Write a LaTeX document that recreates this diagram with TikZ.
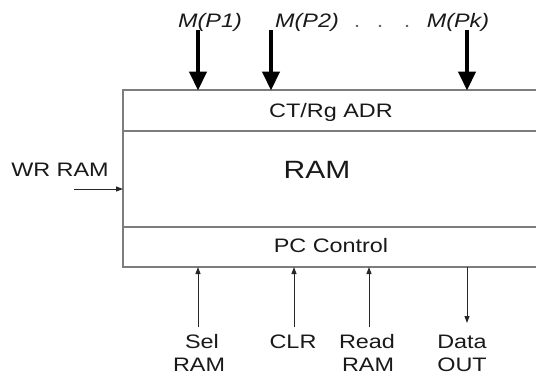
\documentclass[tikz,border=0pt]{standalone}
\usepackage{fontspec}
\newfontfamily\labfont[FakeStretch=1.2]{Liberation Sans}
\usetikzlibrary{arrows.meta}
\definecolor{boxgray}{RGB}{125,125,125}
\tikzset{
  lab/.style={font=\labfont\fontsize{19.5}{24}\selectfont, inner sep=0pt, anchor=base, text=black!90},
  toplab/.style={lab, font=\labfont\itshape\fontsize{19.5}{24}\selectfont},
  boxline/.style={draw=boxgray, line width=1.4pt},
  bigarrow/.style={line width=4.5pt, -{Triangle[length=19pt,width=17pt]}, shorten >=-0.5pt},
  smallarrow/.style={line width=1pt, draw=black!85, -{Triangle[length=7pt,width=5pt]}},
}
\begin{document}
\begin{tikzpicture}[x=1pt,y=-1pt]
\useasboundingbox (0,0) rectangle (536,376);
% box (open on the right)
\coordinate (tl) at (123,90);
\coordinate (tr) at (536,90);
\coordinate (bl) at (123,267);
\coordinate (br) at (536,267);
\coordinate (l1) at (123,131);
\coordinate (r1) at (536,131);
\coordinate (l2) at (123,227);
\coordinate (r2) at (536,227);
\draw[boxline] (tr) -- (tl) -- (bl) -- (br);
\draw[boxline] (l1) -- (r1);
\draw[boxline] (l2) -- (r2);
% texts inside
\node[lab] (ct) at (331,117) {CT/Rg ADR};
\node[lab, font=\labfont\fontsize{25}{30}\selectfont] (ram) at (317,178) {RAM};
\node[lab] (pc) at (331,252) {PC Control};
% top labels
\node[toplab] (p1) at (210,27) {M(P1)};
\node[toplab] (p2) at (307,27) {M(P2)};
\node[toplab] (pk) at (458,27) {M(Pk)};
\node[lab, text=black!60] (d1) at (357,27) {.};
\node[lab, text=black!60] (d2) at (380,27) {.};
\node[lab, text=black!60] (d3) at (407,27) {.};
% top arrows
\coordinate (a1s) at (198,30); \coordinate (a1e) at (198,90);
\coordinate (a2s) at (271,30); \coordinate (a2e) at (271,90);
\coordinate (aks) at (467,30); \coordinate (ake) at (467,90);
\draw[bigarrow] (a1s) -- (a1e);
\draw[bigarrow] (a2s) -- (a2e);
\draw[bigarrow] (aks) -- (ake);
% WR RAM
\node[lab] (wr) at (60,176) {WR RAM};
\coordinate (wrs) at (74,189); \coordinate (wre) at (123,189);
\draw[smallarrow] (wrs) -- (wre);
% bottom labels
\node[lab] (sel) at (202,348) {Sel};
\node[lab] (selr) at (199,371) {RAM};
\node[lab] (clr) at (293,348) {CLR};
\node[lab] (rd) at (367,348) {Read};
\node[lab] (rdr) at (368,371) {RAM};
\node[lab] (dat) at (462,348) {Data};
\node[lab] (out) at (462,371) {OUT};
% bottom arrows
\coordinate (ss) at (198,327); \coordinate (se) at (198,267);
\coordinate (cs) at (294,327); \coordinate (ce) at (294,267);
\coordinate (rs) at (369,327); \coordinate (re) at (369,267);
\coordinate (ds) at (467,267); \coordinate (de) at (467,323);
\draw[smallarrow] (ss) -- (se);
\draw[smallarrow] (cs) -- (ce);
\draw[smallarrow] (rs) -- (re);
\draw[smallarrow] (ds) -- (de);
\end{tikzpicture}
\end{document}
